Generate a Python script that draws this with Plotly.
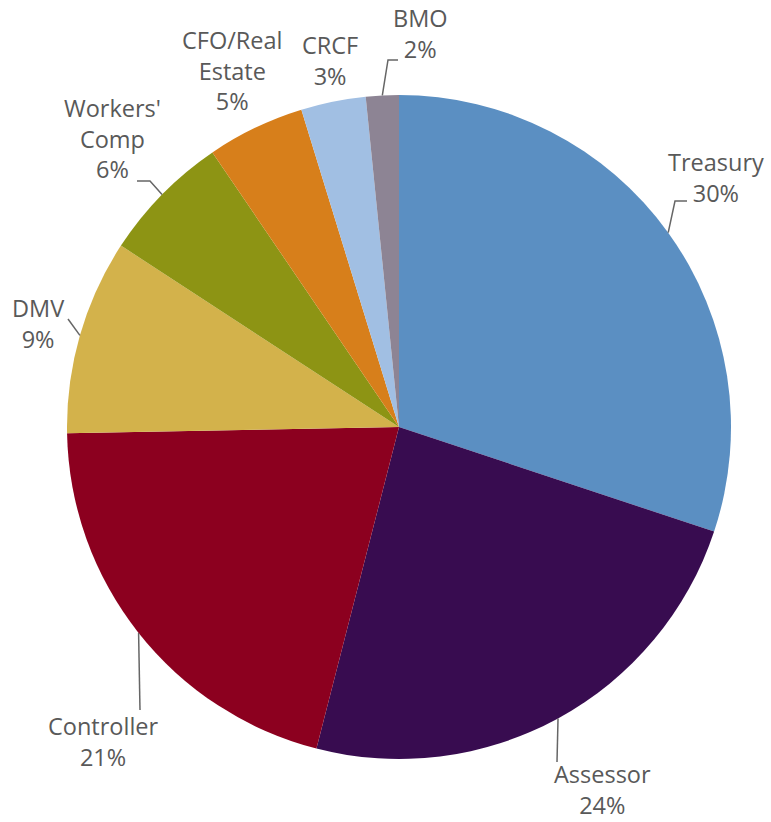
import plotly.graph_objects as go
import math

# ---- data ----
labels = ["Treasury", "Assessor", "Controller", "DMV", "Workers' Comp",
          "CFO/Real Estate", "CRCF", "BMO"]
values = [30.1, 23.9, 20.7, 9.5, 6.3, 4.75, 3.15, 1.6]
pct_labels = ["30%", "24%", "21%", "9%", "6%", "5%", "3%", "2%"]
display_names = ["Treasury", "Assessor", "Controller", "DMV", "Workers'<br>Comp",
                 "CFO/Real<br>Estate", "CRCF", "BMO"]
colors = ["#5B8FC2", "#380C50", "#8C001F", "#D3B24B", "#8D9414",
          "#D77F1B", "#A1BFE3", "#8D8494"]

# ---- layout constants (pixels) ----
W, H = 771, 822
CX, CY, R = 399, 427, 332

def px(x):
    return x / W

def py(y):
    return 1 - y / H

# label centres and leader elbow points (pixels)
label_pos = {
    "Treasury": (716, 177), "Assessor": (602, 789), "Controller": (103, 741),
    "DMV": (38, 324), "Workers' Comp": (112, 139), "CFO/Real Estate": (233, 70),
    "CRCF": (330, 61), "BMO": (421, 34),
}
leader_pts = {
    "Treasury": [(675, 201), (687, 201)],
    "Assessor": [(557, 762)],
    "Controller": [(140, 710)],
    "DMV": [(68, 319)],
    "Workers' Comp": [(150, 181), (137, 181)],
    "BMO": [(388, 60), (398, 60)],
}

fig = go.Figure(go.Pie(
    labels=labels, values=values, sort=False, direction="clockwise",
    rotation=0, marker=dict(colors=colors, line=dict(width=0)),
    textinfo="none", hoverinfo="label+percent",
    domain=dict(x=[px(CX - R), px(CX + R)], y=[py(CY + R), py(CY - R)]),
    showlegend=False,
))

total = sum(values)
cum = 0
annotations = []
shapes = []
for name, disp, v, pl in zip(labels, display_names, values, pct_labels):
    mid = (cum + v / 2) / total * 2 * math.pi
    cum += v
    ex, ey = CX + R * math.sin(mid), CY - R * math.cos(mid)
    lx, ly = label_pos[name]
    annotations.append(dict(
        x=px(lx), y=py(ly), xref="paper", yref="paper", text=f"{disp}<br>{pl}",
        showarrow=False, xanchor="center", yanchor="middle", align="center",
        font=dict(family="Open Sans", size=23.5, color="#595959"),
    ))
    if name in leader_pts:
        pts = [(ex, ey)] + leader_pts[name]
        path = "M " + " L ".join(f"{px(a)},{py(b)}" for a, b in pts)
        shapes.append(dict(type="path", xref="paper", yref="paper", path=path,
                           line=dict(color="#666666", width=1.5)))

fig.update_layout(
    width=W, height=H, margin=dict(l=0, r=0, t=0, b=0),
    paper_bgcolor="white", plot_bgcolor="white",
    annotations=annotations, shapes=shapes,
)
fig.write_html("out.html")
